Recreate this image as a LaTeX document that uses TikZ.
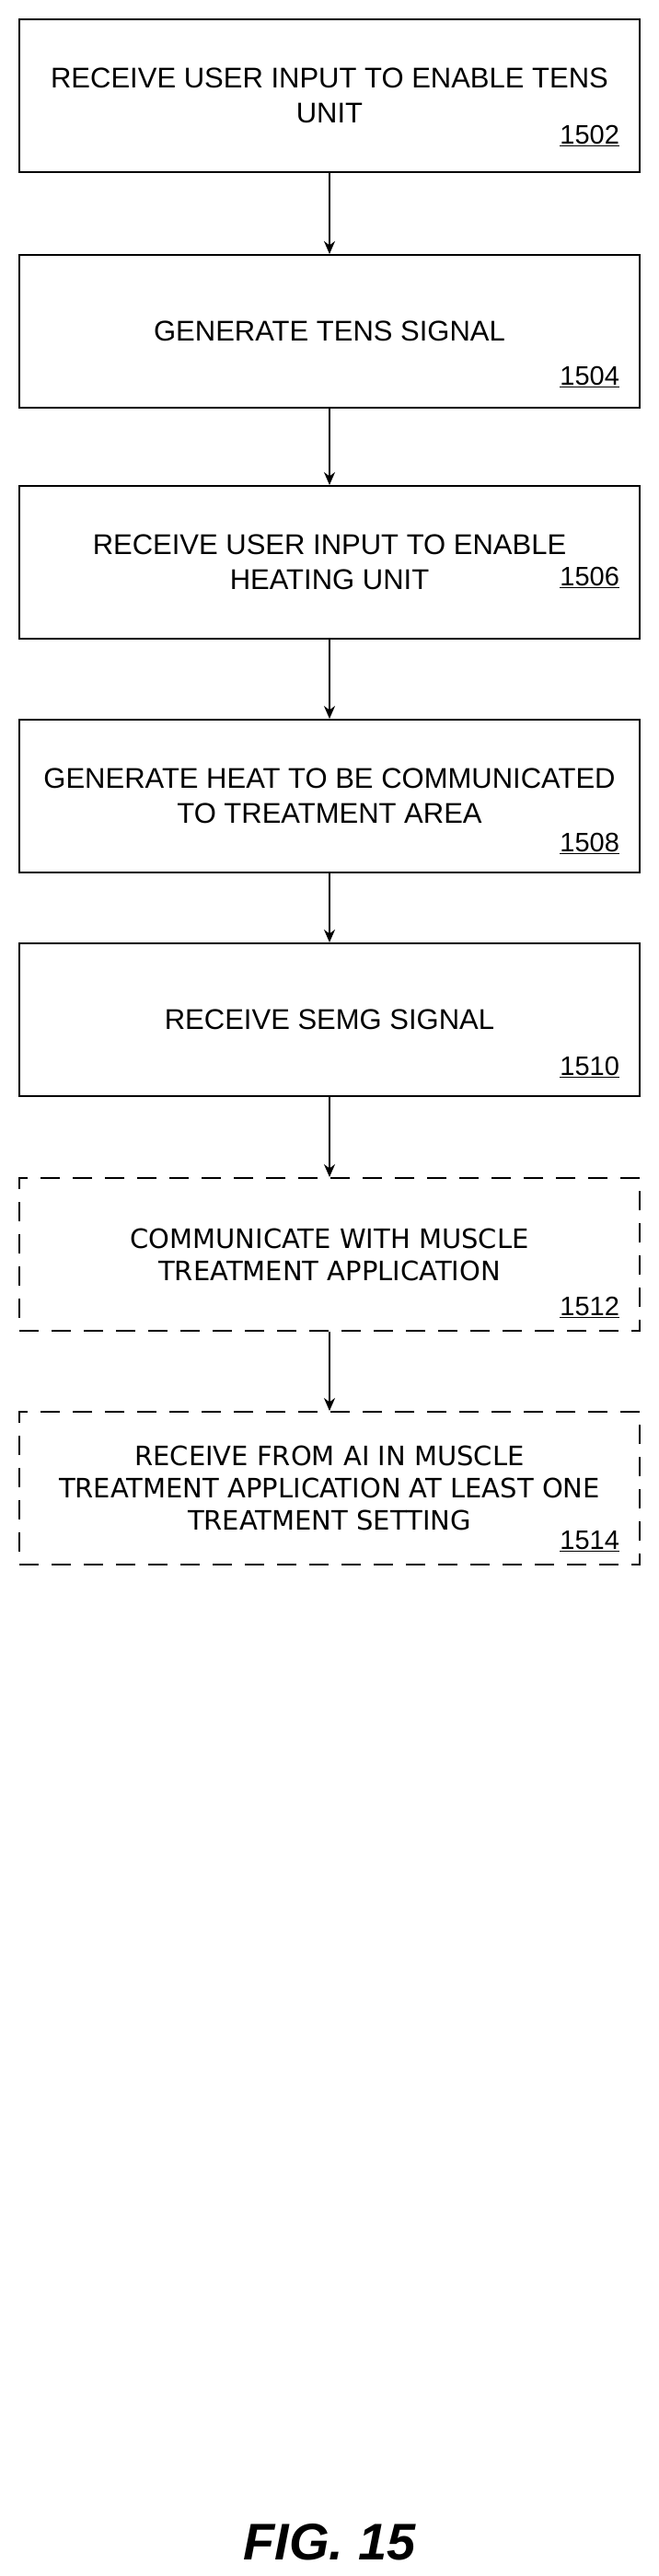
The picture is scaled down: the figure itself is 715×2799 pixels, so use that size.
\documentclass[tikz,border=0pt]{standalone}
\usepackage{fontspec}
\setmainfont{Liberation Sans}
\newfontfamily\widefont{DejaVu Sans}
\usetikzlibrary{arrows.meta}

\begin{document}
\begin{tikzpicture}[%
        x = 1pt, y = -1pt,
        line width = 2pt,
        flowstep/.style = {draw, minimum width = 674pt, minimum height = 166pt,
            align = center, font = \fontsize{31}{38}\selectfont},
        optstep/.style = {flowstep, dash pattern = on 21pt off 14pt,
            font = \widefont\fontsize{29}{35}\selectfont},
        refnum/.style = {anchor = south east, inner sep = 0pt,
            font = \fontsize{29}{33}\selectfont},
        flow/.style = {-{Stealth[length = 14pt, width = 12pt]}}
    ]

        % Page frame.
        \useasboundingbox (0, 0) rectangle (715, 2799);

        % Boxes for all of the steps.
        \node[flowstep] (s1) at (358, 104) {RECEIVE USER INPUT TO ENABLE TENS\\UNIT};
        \node[flowstep] (s2) at (358, 360) {GENERATE TENS SIGNAL};
        \node[flowstep] (s3) at (358, 611) {RECEIVE USER INPUT TO ENABLE\\HEATING UNIT};
        \node[flowstep] (s4) at (358, 865) {GENERATE HEAT TO BE COMMUNICATED\\TO TREATMENT AREA};
        \node[flowstep] (s5) at (358, 1108) {RECEIVE SEMG SIGNAL};
        \node[optstep] (s6) at (358, 1363) {COMMUNICATE WITH MUSCLE\\TREATMENT APPLICATION};
        \node[optstep] (s7) at (358, 1617) {RECEIVE FROM AI IN MUSCLE\\TREATMENT APPLICATION AT LEAST ONE\\TREATMENT SETTING};

        % Reference numbers.
        \node[refnum] at ([shift = {(-22, -28)}]s1.south east) {\underline{1502}};
        \node[refnum] at ([shift = {(-22, -22)}]s2.south east) {\underline{1504}};
        \node[refnum] at ([shift = {(-22, -55)}]s3.south east) {\underline{1506}};
        \node[refnum] at ([shift = {(-22, -20)}]s4.south east) {\underline{1508}};
        \node[refnum] at ([shift = {(-22, -20)}]s5.south east) {\underline{1510}};
        \node[refnum] at ([shift = {(-22, -14)}]s6.south east) {\underline{1512}};
        \node[refnum] at ([shift = {(-22, -14)}]s7.south east) {\underline{1514}};

        % Connectors.
        \foreach \a/\b in {s1/s2, s2/s3, s3/s4, s4/s5, s5/s6, s6/s7}
            \draw[flow] (\a) -- (\b);

        % Figure caption.
        \node[font = \bfseries\itshape\fontsize{56}{62}\selectfont] (fig) at (358, 2762) {FIG. 15};
    \end{tikzpicture}
\end{document}
